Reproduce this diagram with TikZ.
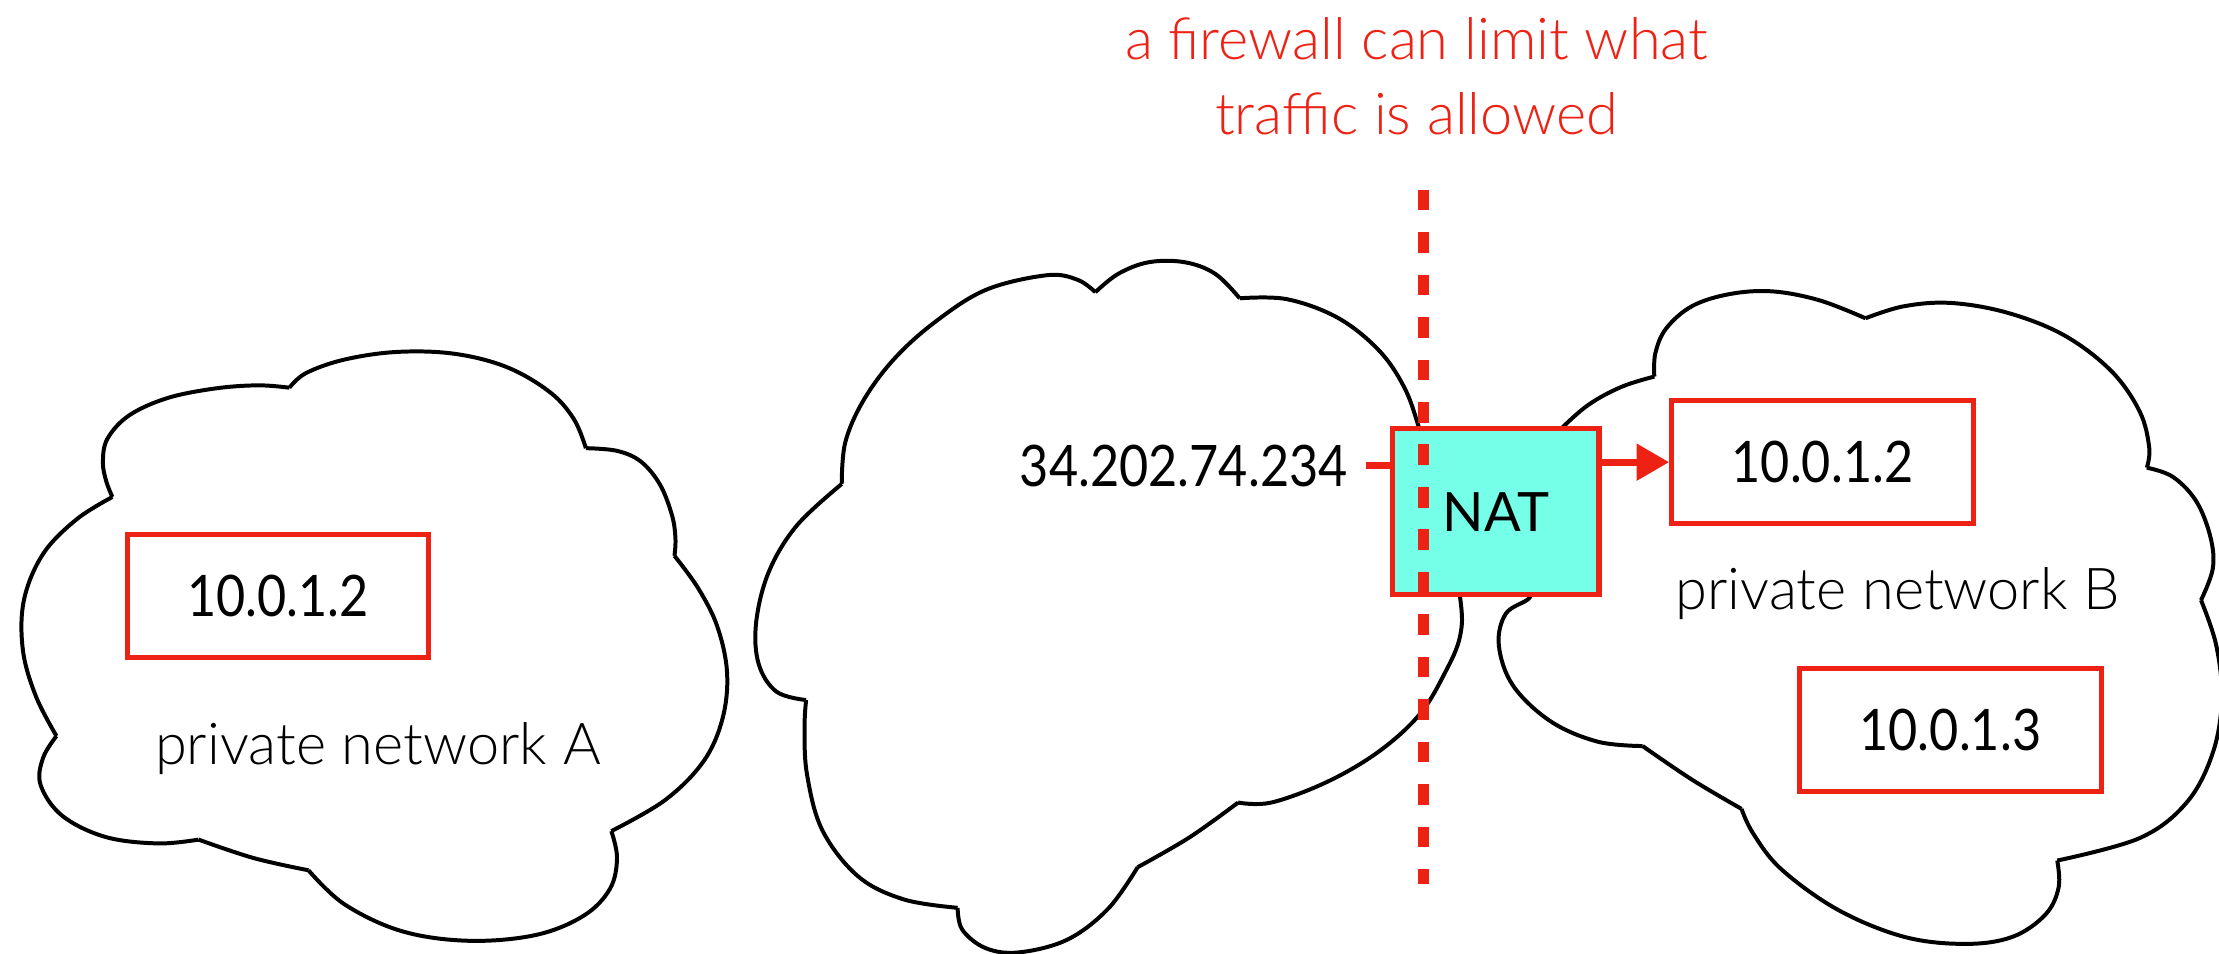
\documentclass[tikz,border=0pt]{standalone}
\usepackage{fontspec}
\setmainfont{Lato}
\newfontfamily\lightfont{Lato Light}
\newfontfamily\digitfont{Lato}[FakeStretch=0.88]
\usetikzlibrary{arrows.meta,calc}
\definecolor{nred}{RGB}{237,34,20}
\definecolor{natfill}{RGB}{118,255,232}
\begin{document}
\begin{tikzpicture}[x=0.01cm,y=-0.01cm,
  cloud/.style={draw=black,line width=0.8pt,line join=round},
  bump/.style={smooth,tension=0.6},
  ipbox/.style={draw=nred,line width=1pt,minimum width=2.13cm,minimum height=0.87cm,inner sep=0pt,font=\digitfont\fontsize{11.5}{13}\selectfont},
  lbl/.style={inner sep=0pt,font=\lightfont\fontsize{11.6}{13}\selectfont},
  ttl/.style={inner sep=0pt,text=nred,font=\lightfont\fontsize{11.6}{14}\selectfont},
  rline/.style={draw=nred,line width=1.42pt},
  fwline/.style={draw=nred,line width=2.28pt,dash pattern=on 0.145cm off 0.155cm}]
\useasboundingbox (0,0) rectangle (1568,674);

% ---------------- cloud A ----------------
\draw[cloud] plot[bump] coordinates {(79.4,351.2) (75,339.8) (72.7,326.2) (76,309.9) (91.3,293.5) (118.3,281.3) (152.1,274.5) (182.5,272.3) (204.5,274)};
\draw[cloud] plot[bump] coordinates {(204.5,274) (216.3,263.6) (243.4,254.1) (280.5,248.7) (321.1,250) (358.3,259.5) (388.7,277.2) (405.6,296.3) (414,316.7)};
\draw[cloud] plot[bump] coordinates {(414,316.7) (436,318.6) (452.9,326.2) (466.4,342.5) (474.9,364.3) (477.3,380.6) (476.6,392.8)};
\draw[cloud] plot[bump] coordinates {(476.6,392.8) (493.5,415.9) (507,443.1) (513.8,475.8) (510.4,508.4) (496.9,538.3) (469.8,565.5) (432,587.3)};
\draw[cloud] plot[bump] coordinates {(432,587.3) (436,606.3) (431,628.1) (412.4,647.1) (378.6,660.7) (331.2,664.8) (283.9,658) (243.4,639) (218,615)};
\draw[cloud] plot[bump] coordinates {(218,615) (179.1,606.3) (140.3,593.3)};
\draw[cloud] plot[bump] coordinates {(140.3,593.3) (111.5,596) (74.4,591.4) (43.9,576.4) (28.7,554.7) (30.4,535.6) (39.9,520.1)};
\draw[cloud] plot[bump] coordinates {(39.9,520.1) (25.4,492.1) (16.2,459.5) (16.9,424.1) (30.4,391.5) (54.1,367) (79.4,351.2)};

% ---------------- middle cloud ----------------
\draw[cloud] plot[bump] coordinates {(594.8,342) (597.3,312.6) (610,283.2) (631.6,253.9) (660.4,227.8) (696.5,204.9) (739.7,194.5) (761.4,197.7) (774,206.5)};
\draw[cloud] plot[bump] coordinates {(774,206.5) (790.2,193.5) (811.8,185.3) (837.1,185.3) (858.7,193.5) (876,210.8)};
\draw[cloud] plot[bump] coordinates {(876,210.8) (909.2,211.4) (945.2,224.5) (974.1,247.3) (992.1,273.4) (1002.9,302.8) (1020,360) (1031.7,421.9) (1031.7,449.6) (1020.9,475.7) (1002.9,505.1) (974.1,531.2) (938,552.4) (898.4,567.1) (874.9,567.1)};
\draw[cloud] plot[bump] coordinates {(874.9,567.1) (840.7,591.6) (803.9,612.8)};
\draw[cloud] plot[bump] coordinates {(803.9,612.8) (783,642.2) (754.2,664) (720,673) (696.5,670) (680,657) (676.7,641.5)};
\draw[cloud] plot[bump] coordinates {(676.7,641.5) (638.8,635.6) (606.4,619.3) (581.1,586.7) (570.3,547.5) (568.5,514.9) (569.6,494.7)};
\draw[cloud] plot[bump] coordinates {(569.6,494.7) (548.7,488.8) (536.1,469.2) (534.3,439.9) (543.3,404) (563.1,371.3) (594.8,342)};

% ---------------- cloud B ----------------
\draw[cloud] plot[bump] coordinates {(1095,312) (1102.4,303.6) (1122.4,286.1) (1145.7,273.4) (1169,266.1)};
\draw[cloud] plot[bump] coordinates {(1169,266.1) (1169.7,249.7) (1177.3,232.2) (1195.7,216.3) (1222.3,207.8) (1252.3,205.9) (1285.6,212.2) (1318.2,224.9)};
\draw[cloud] plot[bump] coordinates {(1318.2,224.9) (1345.5,216.4) (1378.8,214.1) (1418.8,221.1) (1458.7,237) (1492,262.3) (1512,290.9) (1518.7,316.3) (1517,330.5)};
\draw[cloud] plot[bump] coordinates {(1517,330.5) (1535.3,336.9) (1552,354.3) (1562,379.7) (1563.6,401.9) (1555.3,424.1)};
\draw[cloud] plot[bump] coordinates {(1555.3,424.1) (1566,455.8) (1570,493.9) (1563.6,532) (1545.3,566.9) (1512,592.2) (1453.7,608.1)};
\draw[cloud] plot[bump] coordinates {(1453.7,608.1) (1454.7,627.1) (1445.4,646.2) (1422.1,662) (1388.8,667) (1345.5,662) (1298.9,643) (1258.9,614.4) (1238.9,589.1) (1230.6,571.6)};
\draw[cloud] plot[bump] coordinates {(1230.6,571.6) (1195.7,551) (1160.7,527.2)};
\draw[cloud] plot[bump] coordinates {(1160.7,527.2) (1129,524.1) (1095.8,509.8) (1069.1,484.4) (1059.1,455.8) (1064.1,433.6) (1080.8,422.5) (1082,412)};

% ---------------- boxes and labels ----------------
\node[ipbox] (hA) at (196.4,421.4) {10.0.1.2};
\node[lbl,anchor=base] (netA) at (267,540.5) {private network A};

\node[ipbox] (hB2) at (1287.8,326.6) {10.0.1.2};
\node[ipbox] (hB3) at (1378.2,515.6) {10.0.1.3};
\node[lbl,anchor=base] (netB) at (1340.9,430.5) {private network B};

\node[draw=nred,line width=1.1pt,fill=natfill,minimum width=1.46cm,minimum height=1.17cm,inner sep=0pt,
      font=\fontsize{10.9}{13}\selectfont] (nat) at (1057,361.5) {NAT};

\node[inner sep=0pt,anchor=base east,font=\digitfont\fontsize{11.5}{13}\selectfont] (ip) at (953,343.5) {34.202.74.234};

\draw[rline] ($(ip.east)+(12,0)$) -- (ip.east -| nat.west);
\draw[rline,-{Triangle[length=0.23cm,width=0.25cm]}] (nat.east |- hB2.west) -- (hB2.west);

% ---------------- firewall ----------------
\node[ttl,anchor=base] (t1) at (1001,42.4) {a firewall can limit what};
\node[ttl,anchor=base] (t2) at (1001,95.4) {traffic is allowed};
\coordinate (fwtop) at (1006,134);
\coordinate (fwbot) at (1006,625);
\draw[fwline] (fwtop) -- (fwbot);
\end{tikzpicture}
\end{document}
